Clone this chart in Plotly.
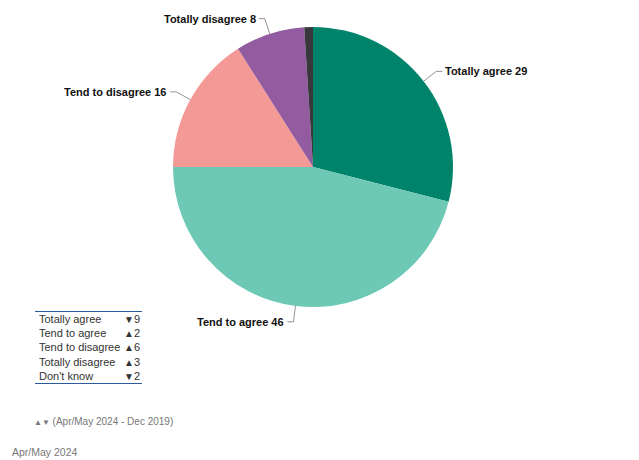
import math
import plotly.graph_objects as go

# Survey answers, Apr/May 2024 (%)
categories = ["Totally agree", "Tend to agree", "Tend to disagree", "Totally disagree", "Don't know"]
values = [29, 46, 16, 8, 1]
colors = ["#00836b", "#6dc9b6", "#f49a96", "#935ba0", "#38383c"]

# Change in percentage points vs Dec 2019
change_dir = ["down", "up", "up", "up", "down"]
change_val = [9, 2, 6, 3, 2]

W, H = 639, 460
CX, CY, R = 313, 167, 140  # pie centre and radius in pixels

fig = go.Figure()
fig.add_trace(go.Pie(
    labels=categories,
    values=values,
    marker=dict(colors=colors, line=dict(width=0)),
    sort=False,
    direction="clockwise",
    rotation=0,
    textinfo="none",
    hoverinfo="label+value",
    showlegend=False,
    domain=dict(x=[(CX - R) / W, (CX + R) / W], y=[1 - (CY + R) / H, 1 - (CY - R) / H]),
))


def px(x):
    return x / W


def py(y):
    return 1 - y / H


shapes = []
annotations = []
total = sum(values)
cum = 0
label_font = dict(family="Liberation Sans, Arial, sans-serif", size=11, color="#111111")
for name, v in zip(categories, values):
    mid = (cum + v / 2) / total * 2 * math.pi
    cum += v
    if name == "Don't know":
        continue
    s, c = math.sin(mid), math.cos(mid)
    x0, y0 = CX + R * s, CY - R * c
    x1, y1 = CX + (R + 16) * s, CY - (R + 16) * c
    side = 1 if s >= 0 else -1
    x2 = x1 + 6 * side
    for (a, b, d, e) in [(x0, y0, x1, y1), (x1, y1, x2, y1)]:
        shapes.append(dict(type="line", xref="paper", yref="paper",
                           x0=px(a), y0=py(b), x1=px(d), y1=py(e),
                           line=dict(color="#777777", width=0.8)))
    annotations.append(dict(
        x=px(x2 + 1 * side), y=py(y1), xref="paper", yref="paper",
        text=f"<b>{name} {v}</b>", showarrow=False,
        xanchor="left" if side > 0 else "right", yanchor="middle",
        font=label_font))

# Change table
table_font = dict(family="Liberation Sans, Arial, sans-serif", size=11, color="#333333")
row_y = [319, 333, 347, 362, 376]
for name, d, cv, yy in zip(categories, change_dir, change_val, row_y):
    annotations.append(dict(x=px(37), y=py(yy), xref="paper", yref="paper",
                            text=name, showarrow=False, xanchor="left",
                            yanchor="middle", font=table_font))
    arrow = "\u25bc" if d == "down" else "\u25b2"
    annotations.append(dict(x=px(142), y=py(yy), xref="paper", yref="paper",
                            text=f"<span style='font-size:10px'>{arrow}</span>{cv}",
                            showarrow=False, xanchor="right",
                            yanchor="middle", font=table_font))
for yy in (311.5, 383.5):
    shapes.append(dict(type="line", xref="paper", yref="paper",
                       x0=px(35), x1=px(142), y0=py(yy), y1=py(yy),
                       line=dict(color="#2b5a9e", width=1)))

annotations.append(dict(x=px(32), y=py(421), xref="paper", yref="paper",
                        text="<span style='font-size:8px'>\u25b2\u25bc</span> (Apr/May 2024 - Dec 2019)",
                        showarrow=False, xanchor="left", yanchor="middle",
                        font=dict(family="Liberation Sans, Arial, sans-serif", size=10, color="#777777")))
annotations.append(dict(x=px(10), y=py(452), xref="paper", yref="paper",
                        text="Apr/May 2024", showarrow=False, xanchor="left",
                        yanchor="middle",
                        font=dict(family="Liberation Sans, Arial, sans-serif", size=10.5, color="#777777")))

fig.update_layout(
    width=W, height=H,
    margin=dict(l=0, r=0, t=0, b=0),
    paper_bgcolor="white", plot_bgcolor="white",
    shapes=shapes, annotations=annotations,
)

fig.write_html("out.html")
